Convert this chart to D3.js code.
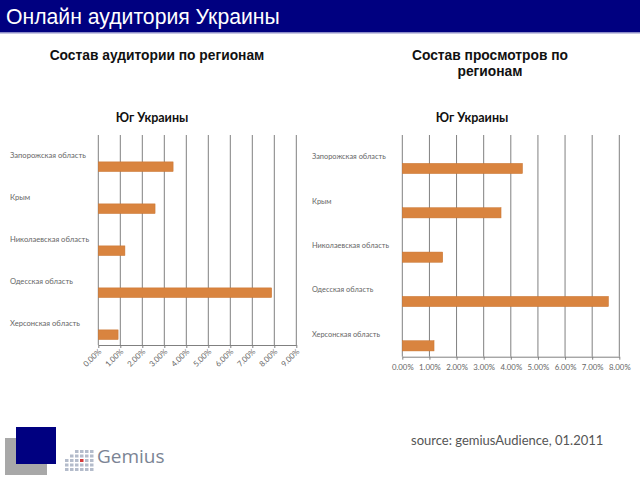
<!DOCTYPE html>
<html><head><meta charset="utf-8">
<script src="https://cdn.jsdelivr.net/npm/d3@7"></script>
<style>body{margin:0;background:#fff;} svg{display:block;}</style>
</head><body>
<svg id="c" width="640" height="480"></svg>
<script>
const categories = ["Запорожская область","Крым","Николаевская область","Одесская область","Херсонская область"];
const audienceValues = [0.034, 0.0258, 0.0121, 0.0788, 0.0090];
const viewsValues = [0.0443, 0.0364, 0.0149, 0.0760, 0.0117];
const audienceTicks = [0,0.01,0.02,0.03,0.04,0.05,0.06,0.07,0.08,0.09];
const viewsTicks = [0,0.01,0.02,0.03,0.04,0.05,0.06,0.07,0.08];
const pageTitle = "Онлайн аудитория Украины";
const leftSubtitle = ["Состав аудитории по регионам"];
const rightSubtitle = ["Состав просмотров по","регионам"];
const chartTitle = "Юг Украины";
const sourceText = "source: gemiusAudience, 01.2011";

const svg = d3.select("#c");
const fmt = d3.format(".2%");
const barColor = "#D9843F";
const gridColor = "#808080";
const chartFont = "Lato, 'Open Sans', sans-serif";

// header
svg.append("rect").attr("x",0).attr("y",0).attr("width",640).attr("height",32).attr("fill","#000080");
svg.append("rect").attr("x",0).attr("y",32).attr("width",640).attr("height",1.5).attr("fill","#8d8dc8");
svg.append("text").attr("x",6).attr("y",24).attr("fill","#fff")
  .attr("font-family","'Liberation Sans', Arial, sans-serif").attr("font-size",21.2).text(pageTitle);

// subtitles
function subtitle(lines, cx, y0){
  const t = svg.append("text").attr("text-anchor","middle")
    .attr("font-family","'Liberation Sans', Arial, sans-serif").attr("font-weight","bold")
    .attr("font-size",13.8).attr("fill","#111");
  lines.forEach((l,i)=>t.append("tspan").attr("x",cx).attr("y",y0+i*16).text(l));
}
subtitle(leftSubtitle, 157, 60);
subtitle(rightSubtitle, 490, 60);

function chart(opts){
  const {values, ticks, xRange, yRange, titleX, labelX, labelSize, rotate} = opts;
  const g = svg.append("g");
  const x = d3.scaleLinear().domain([0, ticks[ticks.length-1]]).range(xRange);
  const y = d3.scaleBand().domain(categories).range(yRange);
  const bw = y.bandwidth();
  g.append("text").attr("x",titleX).attr("y",122).attr("text-anchor","middle")
    .attr("font-family",chartFont).attr("font-weight","bold").attr("font-size",12.5).attr("fill","#111").text(chartTitle);
  // gridlines
  g.selectAll("line.grid").data(ticks).join("line")
    .attr("x1",d=>x(d)).attr("x2",d=>x(d)).attr("y1",yRange[0]).attr("y2",yRange[1])
    .attr("stroke",gridColor).attr("stroke-width",1);
  // bottom axis
  const ax = g.append("g").attr("transform",`translate(0,${yRange[1]})`)
    .call(d3.axisBottom(x).tickValues(ticks).tickFormat(fmt).tickSize(3).tickSizeOuter(0));
  ax.select(".domain").attr("stroke",gridColor);
  ax.selectAll(".tick line").attr("stroke",gridColor);
  ax.selectAll("text").attr("font-family",chartFont).attr("font-size",7.8).attr("fill","#666");
  if(rotate){
    ax.selectAll("text").attr("text-anchor","end").attr("dy",0).attr("y",0)
      .attr("transform","translate(3,7) rotate(-45)");
  } else {
    ax.selectAll("text").attr("y",8);
  }
  // bars
  g.selectAll("rect.bar").data(values).join("rect")
    .attr("x",x(0)).attr("y",(d,i)=>y(categories[i])+bw*0.64)
    .attr("width",d=>x(d)-x(0)).attr("height",bw*0.23)
    .attr("fill",barColor).attr("stroke","#c8732f").attr("stroke-width",0.5);
  // category labels
  g.selectAll("text.cat").data(categories).join("text")
    .attr("x",labelX).attr("y",d=>y(d)+bw/2+2)
    .attr("font-family",chartFont).attr("font-size",labelSize).attr("fill","#666").text(d=>d);
}

chart({values: audienceValues, ticks: audienceTicks, xRange:[98.3,296.3], yRange:[135,345],
  titleX:152, labelX:10, labelSize:7.6, rotate:true});
chart({values: viewsValues, ticks: viewsTicks, xRange:[402.3,619.3], yRange:[135,356.7],
  titleX:472, labelX:312, labelSize:7.4, rotate:false});

// logo
svg.append("rect").attr("x",5).attr("y",438).attr("width",42).attr("height",37).attr("fill","#a8a8a8");
svg.append("rect").attr("x",16).attr("y",427).attr("width",40).attr("height",37).attr("fill","#000080");
const grid = svg.append("g");
for(let c=0;c<6;c++){ for(let r=0;r<5;r++){
  if(c<2 && r<2-c) continue;
  grid.append("rect").attr("x",65+c*5).attr("y",450+r*4.5).attr("width",3.5).attr("height",3)
    .attr("fill",(c===3&&r===2)?"#d43a3a":"#b4bccb");
}}
svg.append("text").attr("x",97).attr("y",463).attr("font-family","'Open Sans', sans-serif")
  .attr("font-size",19).attr("fill","#7b8494").text("Gemius");

svg.append("text").attr("x",411).attr("y",445).attr("font-family",chartFont)
  .attr("font-size",13).attr("fill","#555").text(sourceText);
</script>
</body></html>
